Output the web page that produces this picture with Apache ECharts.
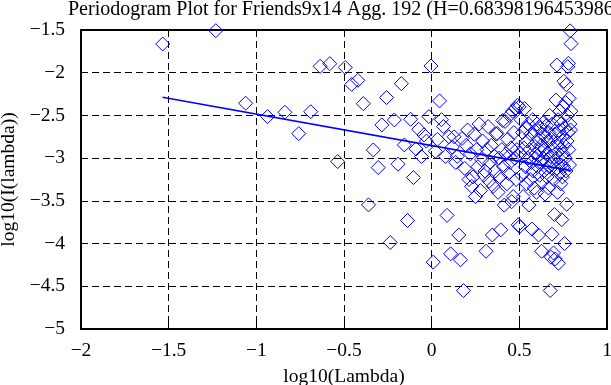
<!DOCTYPE html>
<html>
<head>
<meta charset="utf-8">
<script src="https://cdn.jsdelivr.net/npm/echarts/dist/echarts.min.js"></script>
<style>
html,body{margin:0;padding:0;background:#fff;}
#chart{width:611px;height:385px;}
</style>
</head>
<body>
<div id="chart"></div>
<script>
// log10 of the frequencies (x)
const logLambda = [
-1.534,-1.231,-1.061,-0.936,-0.837,-0.758,-0.690,-0.636,-0.581,-0.536,
-0.493,-0.456,-0.421,-0.390,-0.360,-0.333,-0.305,-0.284,-0.257,-0.236,
-0.213,-0.192,-0.173,-0.156,-0.138,-0.120,-0.104,-0.089,-0.074,-0.058,
-0.044,-0.030,-0.016,-0.004,0.009,
0.021,0.033,0.045,0.056,0.067,0.078,0.088,0.098,0.108,0.118,
0.128,0.137,0.146,0.155,0.164,0.173,0.181,0.189,0.197,0.205,
0.213,0.221,0.228,0.236,0.243,0.250,0.257,0.264,0.271,0.278,
0.285,0.291,0.298,0.304,0.310,0.316,0.322,0.328,0.334,0.340,
0.346,0.351,0.357,0.363,0.368,0.373,0.379,0.384,0.389,0.394,
0.400,0.405,0.410,0.414,0.419,0.424,0.429,0.434,0.438,0.443,
0.447,0.452,0.456,0.461,0.465,0.469,0.474,0.478,0.482,0.486,
0.490,0.494,
0.498,0.502,0.506,0.510,0.514,0.518,0.522,0.526,0.530,0.534,
0.537,0.541,0.545,0.548,0.552,0.555,0.559,0.562,0.566,0.569,
0.572,0.576,0.579,0.582,0.585,0.588,0.592,0.595,0.598,0.601,
0.604,0.607,0.610,0.613,0.616,0.619,0.622,0.625,0.627,0.630,
0.633,0.636,0.639,0.641,0.644,0.647,0.650,0.652,0.655,0.658,
0.660,0.663,0.666,0.668,0.671,0.673,0.676,0.678,0.681,0.683,
0.686,0.688,0.691,0.693,0.695,0.698,0.700,0.702,0.705,0.707,
0.709,0.712,0.714,0.716,0.718,0.721,0.723,0.725,0.727,0.729,
0.731,0.734,0.736,0.738,0.740,0.742,0.744,0.746,0.748,0.750,
0.752,0.754,0.756,0.758,0.760,0.762,0.764,0.766,0.768,0.770,
0.772,0.774,0.776,0.778,0.780,0.782,0.784,0.786,0.788,0.790,
0.792,0.794,0.795
];
// log10 of the periodogram values (y)
const logPeriodogram = [
-1.664,-1.508,-2.357,-2.514,-2.463,-2.713,-2.457,-1.925,-1.894,-3.040,
-1.939,-2.137,-2.089,-2.362,-3.547,-2.904,-3.110,-2.611,-2.291,-3.988,
-2.553,-3.071,-2.128,-2.845,-3.730,-2.545,-3.227,-2.892,-2.662,-2.982,
-2.728,-2.800,-2.514,-1.921,-4.217,
-2.92,-2.78,-2.33,-2.55,-2.63,-2.98,-3.67,-2.75,-4.12,-2.87,
-2.75,-3.05,-2.98,-3.90,-4.19,-2.77,-4.55,-3.12,-2.85,-2.67,
-3.25,-2.95,-3.33,-3.22,-2.72,-3.45,-2.90,-3.10,-2.60,-3.38,
-3.02,-2.80,-3.20,-3.15,-4.09,-2.90,-2.63,-3.27,-3.05,-2.85,
-3.90,-3.33,-2.98,-3.15,-2.72,-2.71,-3.40,-3.00,-3.22,-3.84,
-2.90,-2.56,-3.10,-3.55,-2.57,-2.95,-3.30,-2.78,-3.18,-2.50,
-3.05,-2.88,-3.51,-2.45,-3.45,-2.70,-3.00,-2.42,-3.25,-2.90,
-2.38,-3.78,
-2.40,-3.80,-2.95,-2.55,-3.20,-2.70,-3.45,-2.88,-2.42,-3.10,
-2.65,-3.30,-2.80,-3.00,-2.60,-3.55,-2.90,-3.25,-2.72,-3.05,
-3.83,-2.55,-3.15,-2.85,-3.35,-2.68,-3.00,-2.95,-3.40,-2.60,
-3.10,-2.78,-3.90,-2.90,-3.20,-2.65,-3.05,-2.85,-4.09,-3.28,
-2.72,-3.00,-2.58,-3.15,-2.90,-3.42,-2.75,-3.05,-2.62,-3.22,
-2.95,-2.80,-3.35,-2.70,-3.10,-2.50,-4.55,-2.98,-4.16,-2.78,
-3.89,-2.60,-3.05,-2.88,-4.11,-3.25,-3.66,-2.72,-4.18,-2.95,
-2.32,-3.12,-1.91,-2.82,-3.40,-2.55,-4.23,-3.00,-2.68,-3.18,
-2.45,-2.90,-3.30,-2.60,-3.08,-3.72,-2.75,-3.22,-2.40,-2.95,
-3.10,-2.10,-2.85,-4.00,-2.65,-3.00,-2.35,-3.15,-2.14,-3.54,
-2.80,-2.50,-1.93,-2.70,-1.89,-2.90,-2.30,-3.08,-2.60,-1.51,
-2.67,-2.45,-1.66
];
// fitted regression line end points
const fitLambda = [-1.535, 0.795];
const fitPeriodogram = [-2.287, -3.146];
// tick labels
const xTicks = [-2, -1.5, -1, -0.5, 0, 0.5, 1];
const yTicks = [-5, -4.5, -4, -3.5, -3, -2.5, -2, -1.5];

const titleText = 'Periodogram Plot for Friends9x14 Agg. 192 (H=0.683981964539862)';

const pts = logLambda.map((x, i) => [x, logPeriodogram[i]]);
const fitPts = fitLambda.map((x, i) => [x, fitPeriodogram[i]]);

const FONT = 'Liberation Serif';
const FS = 19.5;
const fmt = v => (v < 0 ? '\u2212' + Math.abs(v) : String(v));

const chart = echarts.init(document.getElementById('chart'), null, {renderer: 'canvas'});

const baseAxis = (extra) => Object.assign({
  type: 'value',
  axisLine: {show: true, onZero: false, lineStyle: {color: '#000', width: 2}},
  axisTick: {show: true, inside: true, length: 6, lineStyle: {color: '#000', width: 1}},
  splitLine: {show: false},
  axisLabel: {show: false}
}, extra);

chart.setOption({
  animation: false,
  backgroundColor: '#fff',
  title: {
    text: titleText,
    left: 63,
    top: -5,
    textStyle: {fontFamily: FONT, fontSize: 20, fontWeight: 'normal', color: '#000'}
  },
  grid: {left: 81, right: 4, top: 30, bottom: 56, containLabel: false, outerBoundsMode: 'none'},
  xAxis: [
    baseAxis({
      position: 'bottom',
      min: xTicks[0], max: xTicks[xTicks.length - 1], interval: 0.5,
      splitLine: {show: true, lineStyle: {color: '#000', width: 1, type: [7, 4]}},
      axisLabel: {show: true, color: '#000', fontFamily: FONT, fontSize: FS, margin: 12,
        formatter: fmt, showMinLabel: true, showMaxLabel: true},
      name: 'log10(Lambda)',
      nameLocation: 'middle',
      nameGap: 38,
      nameTextStyle: {fontFamily: FONT, fontSize: FS, color: '#000'}
    }),
    baseAxis({position: 'top', min: xTicks[0], max: xTicks[xTicks.length - 1], interval: 0.5})
  ],
  yAxis: [
    baseAxis({
      position: 'left',
      min: yTicks[0], max: yTicks[yTicks.length - 1], interval: 0.5,
      splitLine: {show: true, lineStyle: {color: '#000', width: 1, type: [7, 4]}},
      axisLabel: {show: true, color: '#000', fontFamily: FONT, fontSize: FS, margin: 16,
        formatter: fmt, showMinLabel: true, showMaxLabel: true},
      name: 'log10(I(lambda))',
      nameLocation: 'middle',
      nameGap: 59,
      nameRotate: 90,
      nameTextStyle: {fontFamily: FONT, fontSize: FS, color: '#000'}
    }),
    baseAxis({position: 'right', min: yTicks[0], max: yTicks[yTicks.length - 1], interval: 0.5})
  ],
  series: [
    {
      type: 'scatter',
      xAxisIndex: 0, yAxisIndex: 0,
      data: pts,
      symbol: 'diamond',
      symbolSize: 14,
      itemStyle: {color: 'rgba(0,0,0,0)', borderColor: '#0000ff', borderWidth: 1, opacity: 1},
      emphasis: {disabled: true},
      z: 2
    },
    {
      type: 'line',
      xAxisIndex: 0, yAxisIndex: 0,
      data: fitPts,
      symbol: 'none',
      lineStyle: {color: '#0000ff', width: 1.6},
      z: 3
    }
  ]
});
</script>
</body>
</html>
